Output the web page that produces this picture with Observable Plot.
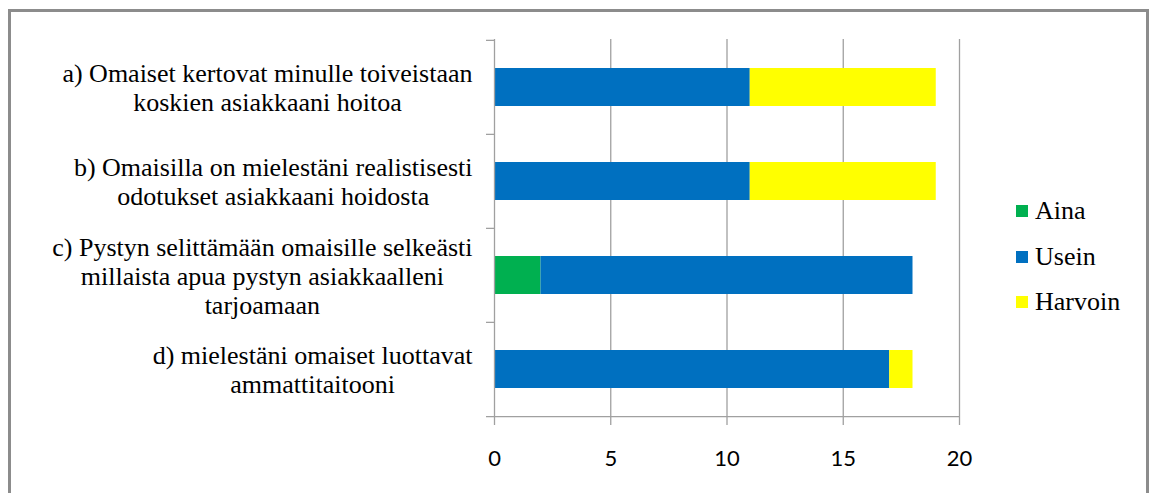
<!DOCTYPE html>
<html>
<head>
<meta charset="utf-8">
<script src="https://cdn.jsdelivr.net/npm/d3@7"></script>
<script src="https://cdn.jsdelivr.net/npm/@observablehq/plot@0.6"></script>
<style>
  body { margin: 0; background: #fff; }
  #chart { position: relative; width: 1150px; height: 493px; overflow: hidden; background: #fff; }
  #chart svg { position: absolute; left: 0; top: 0; }
  #frame {
    position: absolute; left: 8px; top: 9px; width: 1141px; height: 520px;
    box-sizing: border-box; border: 3px solid #8c8c8c; pointer-events: none;
  }
  #legend { position: absolute; left: 1016px; top: 0; font-size: 26px; font-family: "Liberation Serif", "DejaVu Serif", "Times New Roman", Times, serif; color: #000; }
  .row { position: absolute; left: 0; height: 30px; display: flex; align-items: center; white-space: nowrap; }
  .swatch { width: 12px; height: 12px; margin-right: 7px; flex: none; }
</style>
</head>
<body>
<div id="chart">
  <div id="frame"></div>
  <div id="legend"></div>
</div>
<script>
// Survey statements (y categories), one line break per wrapped line
const categories = [
  "a) Omaiset kertovat minulle toiveistaan\nkoskien asiakkaani hoitoa",
  "b) Omaisilla on mielestäni realistisesti\nodotukset asiakkaani hoidosta",
  "c) Pystyn selittämään omaisille selkeästi\nmillaista apua pystyn asiakkaalleni\ntarjoamaan",
  "d) mielestäni omaiset luottavat\nammattitaitooni"
];

// Answer options and their counts per statement
const series = ["Aina", "Usein", "Harvoin"];
const aina = [0, 0, 2, 0];
const usein = [11, 11, 16, 17];
const harvoin = [8, 8, 0, 1];
const colors = ["#00b050", "#0070c0", "#ffff00"];

const xTicks = [0, 5, 10, 15, 20];

const values = [aina, usein, harvoin];
const rows = categories.flatMap((category, i) =>
  series.map((s, j) => ({category, series: s, value: values[j][i]}))
);

const W = 1150, H = 493;
const mL = 494, mR = 191, mT = 39, mB = 77;
const step = (H - mT - mB) / categories.length;
const gridColor = "#a0a0a0";

// Statement labels: each block centered on its widest line, right edge near the axis
const labelSize = 26;
const labelFontFamily = `"Liberation Serif", "DejaVu Serif", "Times New Roman", Times, serif`;
const ctx = document.createElement("canvas").getContext("2d");
ctx.font = `${labelSize}px ${labelFontFamily}`;
const blockWidth = (c) => d3.max(c.split("\n"), (line) => ctx.measureText(line).width);
const labelGap = 22;

const labelMarks = categories.map((c) =>
  Plot.text([c], {
    y: (d) => d,
    text: (d) => d,
    frameAnchor: "left",
    textAnchor: "middle",
    dx: -(labelGap + blockWidth(c) / 2),
    lineHeight: 1.12,
    fontFamily: labelFontFamily,
    fontSize: labelSize,
    fill: "#000"
  })
);

const chart = Plot.plot({
  width: W,
  height: H,
  marginLeft: mL,
  marginRight: mR,
  marginTop: mT,
  marginBottom: mB,
  x: {domain: [0, 20]},
  // uniform category slots with the bar centred in each
  y: {domain: categories, paddingInner: 0.6, paddingOuter: 0.3},
  color: {domain: series, range: colors},
  style: {fontFamily: "Lato", fontSize: "22px", color: "#000", background: "transparent"},
  marks: [
    // vertical gridlines, extended below the axis as tick marks
    Plot.ruleX(xTicks.slice(1), {stroke: gridColor, strokeWidth: 1.3, insetBottom: -9}),
    Plot.barX(rows, Plot.stackX({order: series, y: "category", x: "value", fill: "series"})),
    // category axis line
    Plot.ruleX([0], {stroke: gridColor, strokeWidth: 1.3, insetBottom: -9}),
    // category boundary ticks
    Plot.ruleY(categories, {y: (d) => d, x1: 0, x2: 0, insetLeft: -8, dy: -step / 2, stroke: gridColor, strokeWidth: 1.3}),
    // value axis line
    Plot.ruleY([categories[categories.length - 1]], {y: (d) => d, x1: 0, x2: 20, insetLeft: -8, dy: step / 2, stroke: gridColor, strokeWidth: 1.3}),
    Plot.axisX({ticks: xTicks, tickSize: 0, tickPadding: 34, label: null, fill: "#000"}),
    Plot.axisY({ticks: [], label: null, tickSize: 0}),
    ...labelMarks
  ]
});

document.getElementById("chart").prepend(chart);

// Legend
const legendCenters = [211, 257, 302];
const legend = document.getElementById("legend");
series.forEach((s, i) => {
  const row = document.createElement("div");
  row.className = "row";
  row.style.top = (legendCenters[i] - 15) + "px";
  const sw = document.createElement("div");
  sw.className = "swatch";
  sw.style.background = colors[i];
  const label = document.createElement("span");
  label.textContent = s;
  row.append(sw, label);
  legend.append(row);
});
</script>
</body>
</html>
